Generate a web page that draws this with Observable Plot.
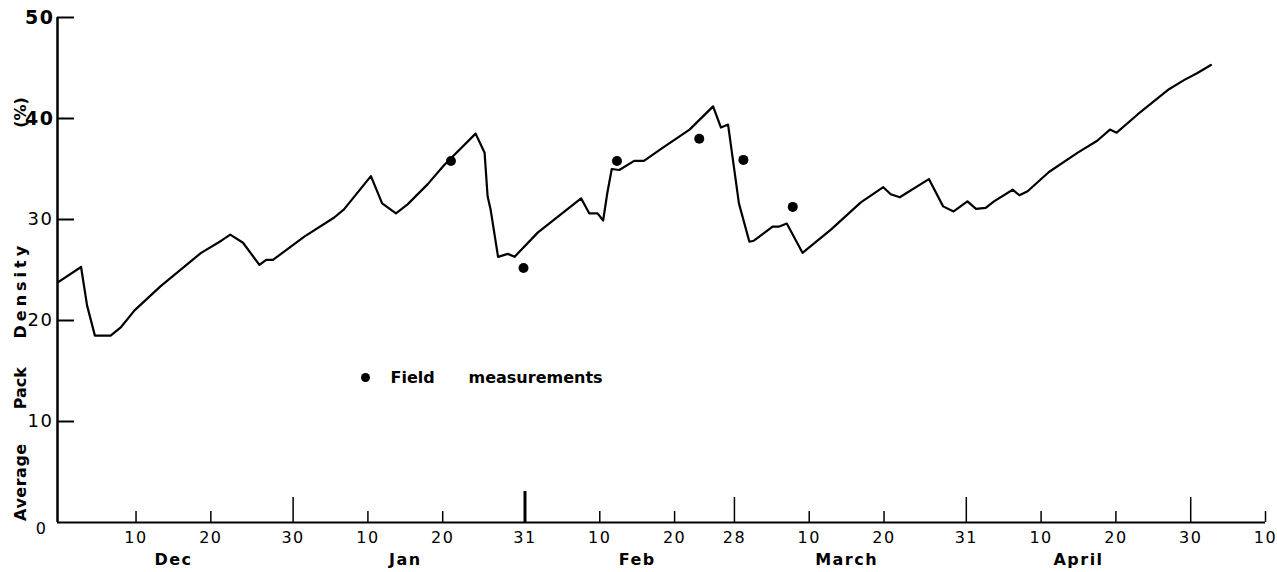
<!DOCTYPE html>
<html>
<head>
<meta charset="utf-8">
<script src="https://cdn.jsdelivr.net/npm/d3@7"></script>
<script src="https://cdn.jsdelivr.net/npm/@observablehq/plot@0.6"></script>
<style>
  html, body { margin: 0; padding: 0; background: #fff; }
  #chart svg { display: block; }
</style>
</head>
<body>
<div id="chart"></div>
<script>
// Season day numbers: 1 Dec = 1, 31 Dec = 31, 31 Jan = 62, 28 Feb = 90, 31 Mar = 121, 30 Apr = 151, 10 May = 161
const densityDay = [-0.4, 2.65, 3.45, 4.5, 6.6, 8.0, 9.8, 13.3, 18.7, 21.4, 22.6, 24.3, 26.5, 27.4, 28.3,
  32.5, 36.5, 37.8, 41.4, 42.9, 44.75, 46.3, 49.0, 51.2, 55.4, 56.6, 57.0, 57.4, 58.4, 59.7, 60.6,
  63.7, 69.5, 70.6, 71.7, 72.45, 73.0, 73.6, 74.6, 76.6, 77.9, 80.2, 84.0, 87.15, 88.2, 89.15,
  90.6, 92.0, 92.6, 95.1, 96.0, 97.0, 99.1, 102.9, 106.9, 109.9, 110.9, 112.1, 116.0, 117.9,
  119.3, 121.15, 122.3, 123.6, 124.7, 127.2, 128.1, 129.2, 132.05, 135.85, 138.5, 140.2, 141.1,
  143.9, 148.1, 150.1, 151.9, 153.7];
const densityPct = [23.8, 25.3, 21.5, 18.5, 18.5, 19.35, 21.0, 23.4, 26.7, 27.9, 28.5, 27.7, 25.5, 26.0, 26.0,
  28.3, 30.2, 31.0, 34.3, 31.6, 30.6, 31.5, 33.5, 35.4, 38.5, 36.6, 32.3, 31.0, 26.3, 26.6, 26.3,
  28.7, 32.1, 30.6, 30.6, 29.9, 32.6, 35.0, 34.9, 35.8, 35.8, 37.0, 38.9, 41.2, 39.1, 39.4,
  31.6, 27.8, 27.9, 29.3, 29.3, 29.6, 26.7, 29.0, 31.7, 33.2, 32.5, 32.2, 34.0, 31.3,
  30.8, 31.8, 31.05, 31.15, 31.8, 32.95, 32.4, 32.8, 34.7, 36.6, 37.8, 38.9, 38.6,
  40.4, 42.9, 43.8, 44.5, 45.3];

const fieldDay = [52.1, 61.8, 74.3, 85.3, 91.2, 97.8];
const fieldPct = [35.8, 25.2, 35.8, 38.0, 35.9, 31.25];

const tickDay   = [10, 20, 31, 41, 51, 62, 72, 82, 90, 100, 110, 121, 131, 141, 151, 161];
const tickLabel = ["10","20","30","10","20","31","10","20","28","10","20","31","10","20","30","10"];
const shortTickDay = [10, 20, 41, 51, 72, 82, 100, 110, 131, 141, 161];
const monthEndDay = [31, 90, 121, 151];
const janEndDay = [62];
const monthName = ["Dec", "Jan", "Feb", "March", "April"];
const monthMidDay = [15, 46, 77, 105, 136];

const yTickValues = [10, 20, 30, 40, 50];
const yLabelBold = ["50", "40"];
const yLabelNormal = ["30", "20", "10"];
const yLabelWords = ["Average", "Pack", "Density", "(%)"];
const yLabelWordAt = [4.0, 13.3, 23.0, 40.6];

const legendLabel = "Field measurements";

const density = densityDay.map((d, i) => ({day: d, pct: densityPct[i]}));
const field = fieldDay.map((d, i) => ({day: d, pct: fieldPct[i]}));
const xTicks = tickDay.map((d, i) => ({day: d, label: tickLabel[i]}));
const months = monthName.map((m, i) => ({day: monthMidDay[i], name: m}));
const yWords = yLabelWords.map((w, i) => ({w, at: yLabelWordAt[i]}));

const W = 1277, H = 572;
const mL = 57, mR = 12, mT = 17, mB = 50;
const innerW = W - mL - mR, innerH = H - mT - mB;
const xDomain = [-0.5, 161];
const FONT = "DejaVu Sans, sans-serif";

const plot = Plot.plot({
  width: W, height: H,
  marginLeft: mL, marginRight: mR, marginTop: mT, marginBottom: mB,
  style: {fontFamily: FONT, background: "#fff", color: "#000", overflow: "visible"},
  x: {type: "linear", domain: xDomain, axis: null},
  y: {domain: [0, 50], axis: null},
  marks: [
    // axes lines
    Plot.ruleX([xDomain[0]], {stroke: "#000", strokeWidth: 2.5}),
    Plot.ruleY([0], {stroke: "#000", strokeWidth: 2}),
    // y ticks (inward)
    Plot.tickY(yTickValues, {y: d => d, stroke: "#000", strokeWidth: 2, insetRight: innerW - 17}),
    // x ticks (upward)
    Plot.tickX(shortTickDay, {x: d => d, stroke: "#000", strokeWidth: 1.5, insetTop: innerH - 11}),
    Plot.tickX(monthEndDay, {x: d => d, stroke: "#000", strokeWidth: 1.5, insetTop: innerH - 25}),
    Plot.tickX(janEndDay, {x: d => d, stroke: "#000", strokeWidth: 3, insetTop: innerH - 31}),
    // x tick labels
    Plot.text(xTicks, {x: "day", text: "label", frameAnchor: "bottom", lineAnchor: "middle", dy: 15, fontSize: 16, fill: "#000"}),
    // month labels
    Plot.text(months, {x: "day", text: "name", frameAnchor: "bottom", lineAnchor: "middle", dy: 37, fontSize: 16, fontWeight: "bold", fill: "#000"}),
    // y tick labels
    Plot.text(yLabelBold, {y: d => +d, text: d => d, frameAnchor: "left", dx: -3, textAnchor: "end", lineAnchor: "middle", fontSize: 19, fontWeight: "bold", fill: "#000"}),
    Plot.text(yLabelNormal, {y: d => +d, text: d => d, frameAnchor: "left", dx: -4, textAnchor: "end", lineAnchor: "middle", fontSize: 18, fill: "#000"}),
    Plot.text(["0"], {y: d => +d, text: d => d, frameAnchor: "left", dx: -10, dy: 6, textAnchor: "end", lineAnchor: "middle", fontSize: 16, fill: "#000"}),
    // y axis title words
    Plot.text(yWords, {y: "at", text: "w", frameAnchor: "left", dx: -37, rotate: -90, textAnchor: "middle", lineAnchor: "middle", fontSize: 16, fontWeight: "bold", fill: "#000"}),
    // data
    Plot.line(density, {x: "day", y: "pct", stroke: "#000", strokeWidth: 2.2, strokeLinejoin: "round"}),
    Plot.dot(field, {x: "day", y: "pct", r: 5, fill: "#000", stroke: "none"}),
    // legend
    Plot.dot([legendLabel], {frameAnchor: "top-left", dx: 308, dy: 360, r: 4.5, fill: "#000", stroke: "none"}),
    Plot.text([legendLabel.split(" ")[0]], {frameAnchor: "top-left", dx: 333, dy: 360, textAnchor: "start", lineAnchor: "middle", fontSize: 16, fontWeight: "bold", fill: "#000"}),
    Plot.text([legendLabel.split(" ")[1]], {frameAnchor: "top-left", dx: 411, dy: 360, textAnchor: "start", lineAnchor: "middle", fontSize: 16, fontWeight: "bold", fill: "#000"})
  ]
});

// letter spacing to mimic the lettering guide
const spacing = new Map([["Density", 4], ["Average", 0.5], ["Pack", 0]]);
d3.select(plot).selectAll("text").each(function() {
  const t = this.textContent;
  if (spacing.has(t)) this.setAttribute("letter-spacing", spacing.get(t));
  else if (monthName.includes(t)) this.setAttribute("letter-spacing", 1.5);
  else if (/^\d+$/.test(t)) this.setAttribute("letter-spacing", 1.5);
});

document.getElementById("chart").appendChild(plot);
</script>
</body>
</html>
